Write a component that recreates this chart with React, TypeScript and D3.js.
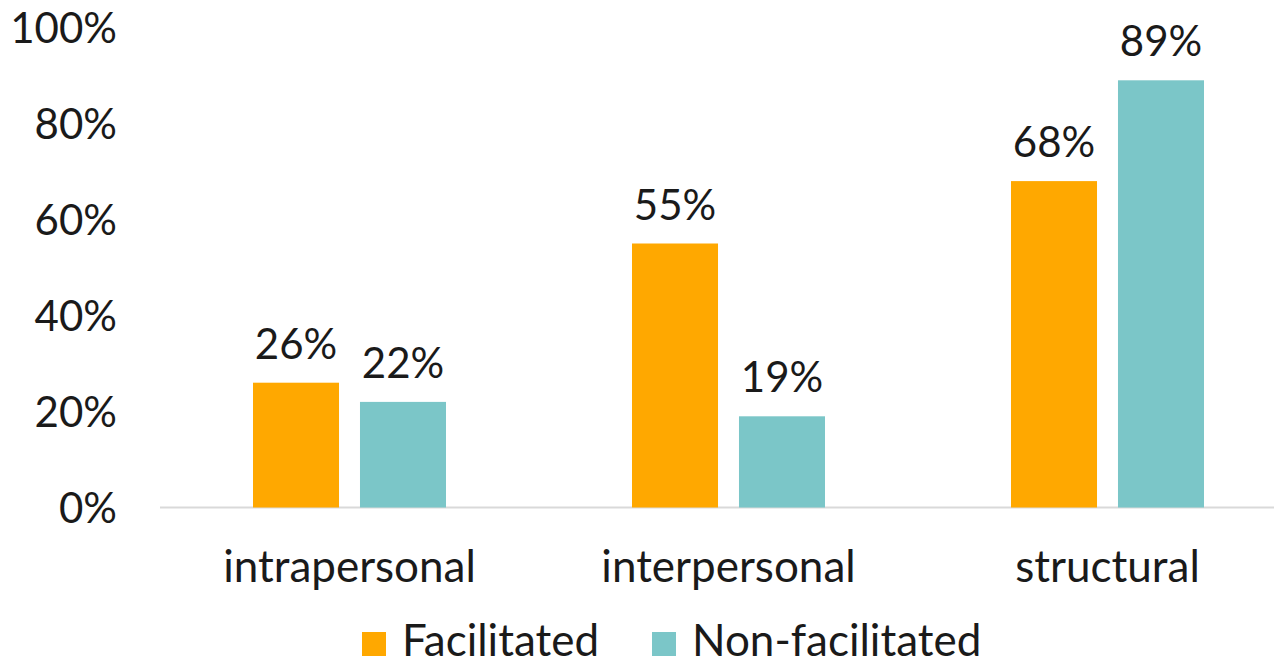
import React, { useRef, useEffect } from "react";
import * as d3 from "d3";

const categories = ["intrapersonal", "interpersonal", "structural"];
const seriesNames = ["Facilitated", "Non-facilitated"];
const facilitated = [26, 55, 68];
const nonFacilitated = [22, 19, 89];
const yTicks = [0, 20, 40, 60, 80, 100];
const colors = ["#FFA800", "#7BC6C8"];

const W = 1282;
const H = 664;
const FONT = "Lato, 'Open Sans', sans-serif";

function Chart() {
  const svgRef = useRef<SVGSVGElement>(null);

  useEffect(() => {
    const svg = d3.select(svgRef.current);
    svg.selectAll("*").remove();

    const x = d3.scaleBand().domain(categories).range([160, 1297]);
    const x1 = d3
      .scaleBand()
      .domain(seriesNames)
      .range([0, 193])
      .paddingInner(0.196);
    const y = d3.scaleLinear().domain([0, 100]).range([507.5, 27.5]);

    // y tick labels
    svg
      .append("g")
      .selectAll("text")
      .data(yTicks)
      .join("text")
      .attr("x", 117)
      .attr("y", (d) => y(d))
      .attr("dy", "0.36em")
      .attr("text-anchor", "end")
      .style("font", `42px ${FONT}`)
      .attr("fill", "#1a1a1a")
      .text((d) => d + "%");

    // baseline
    svg
      .append("line")
      .attr("x1", 160)
      .attr("x2", W)
      .attr("y1", y(0))
      .attr("y2", y(0))
      .attr("stroke", "#d9d9d9")
      .attr("stroke-width", 2);

    const values = [facilitated, nonFacilitated];
    const groups = svg
      .append("g")
      .selectAll("g")
      .data(categories)
      .join("g")
      .attr("transform", (d) => `translate(${x(d)! + (x.bandwidth() - 193) / 2},0)`);

    groups
      .selectAll("rect")
      .data((_, i) => seriesNames.map((s, j) => ({ s, v: values[j][i], j })))
      .join("rect")
      .attr("x", (d) => x1(d.s)!)
      .attr("width", x1.bandwidth())
      .attr("y", (d) => y(d.v))
      .attr("height", (d) => y(0) - y(d.v))
      .attr("fill", (d) => colors[d.j]);

    groups
      .selectAll("text.val")
      .data((_, i) => seriesNames.map((s, j) => ({ s, v: values[j][i], j })))
      .join("text")
      .attr("class", "val")
      .attr("x", (d) => x1(d.s)! + x1.bandwidth() / 2)
      .attr("y", (d) => y(d.v) - 24)
      .attr("text-anchor", "middle")
      .style("font", `42px ${FONT}`)
      .attr("fill", "#1a1a1a")
      .text((d) => d.v + "%");

    // category labels
    svg
      .append("g")
      .selectAll("text")
      .data(categories)
      .join("text")
      .attr("x", (d) => x(d)! + x.bandwidth() / 2)
      .attr("y", 582)
      .attr("text-anchor", "middle")
      .style("font", `44px ${FONT}`)
      .attr("fill", "#1a1a1a")
      .text((d) => d);

    // legend
    const legendX = [362, 652];
    const legend = svg
      .append("g")
      .selectAll("g")
      .data(seriesNames)
      .join("g")
      .attr("transform", (_, i) => `translate(${legendX[i]},0)`);
    legend
      .append("rect")
      .attr("x", 0)
      .attr("y", 632)
      .attr("width", 24)
      .attr("height", 24)
      .attr("fill", (_, i) => colors[i]);
    legend
      .append("text")
      .attr("x", 40)
      .attr("y", 656)
      .style("font", `44px ${FONT}`)
      .attr("fill", "#1a1a1a")
      .text((d) => d);
  }, []);

  return <svg ref={svgRef} width={W} height={H} style={{ display: "block", background: "#fff" }}></svg>;
}

export default function App() {
  return (
    <div style={{ margin: -8 }}>
      <Chart />
    </div>
  );
}
